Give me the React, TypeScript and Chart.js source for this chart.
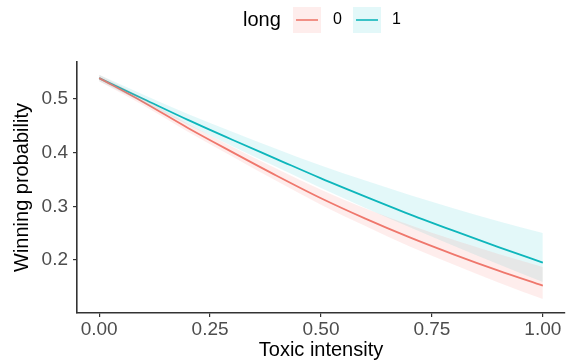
import React, { useEffect, useRef } from "react";
import { Chart, registerables } from "chart.js";

Chart.register(...registerables);

// Toxic intensity grid
const xValues = [0, 0.1, 0.2, 0.3, 0.4, 0.5, 0.6, 0.7, 0.8, 0.9, 1.0];

// long = 0 (red)
const long0Fit = [0.539, 0.494, 0.446, 0.401, 0.357, 0.315, 0.277, 0.242, 0.21, 0.18, 0.152];
const long0Upper = [0.545, 0.501, 0.454, 0.411, 0.37, 0.331, 0.296, 0.265, 0.237, 0.211, 0.187];
const long0Lower = [0.533, 0.488, 0.439, 0.393, 0.347, 0.303, 0.263, 0.225, 0.191, 0.158, 0.127];

// long = 1 (teal)
const long1Fit = [0.539, 0.5, 0.461, 0.424, 0.388, 0.352, 0.318, 0.285, 0.254, 0.224, 0.195];
const long1Upper = [0.545, 0.508, 0.472, 0.439, 0.407, 0.376, 0.348, 0.321, 0.296, 0.272, 0.25];
const long1Lower = [0.533, 0.493, 0.452, 0.412, 0.373, 0.334, 0.297, 0.261, 0.226, 0.192, 0.159];

const xTicks = [0, 0.25, 0.5, 0.75, 1.0];
const yTicks = [0.2, 0.3, 0.4, 0.5];

const legendTitle = "long";
const legendLabels = ["0", "1"];

const RED = "#EE786D";
const TEAL = "#10B5BA";
const RED_FILL = "rgba(248,118,109,0.13)";
const TEAL_FILL = "rgba(0,191,196,0.11)";
const FONT = "'Liberation Sans', Arial, Helvetica, sans-serif";

const pts = (ys: number[]) => xValues.map((x, i) => ({ x, y: ys[i] }));

const legendPlugin = {
  id: "ggLegend",
  afterDraw(chart: any) {
    const ctx = chart.ctx;
    ctx.save();
    ctx.fillStyle = "#000";
    ctx.textBaseline = "middle";
    ctx.textAlign = "left";
    ctx.font = `20px ${FONT}`;
    ctx.fillText(legendTitle, 243, 20);
    const keys = [
      { x: 293, fill: RED_FILL, line: RED, label: legendLabels[0], lx: 333 },
      { x: 353, fill: TEAL_FILL, line: TEAL, label: legendLabels[1], lx: 392 },
    ];
    keys.forEach((k) => {
      ctx.fillStyle = k.fill;
      ctx.fillRect(k.x, 7, 28, 26);
      ctx.strokeStyle = k.line;
      ctx.lineWidth = 1.6;
      ctx.beginPath();
      ctx.moveTo(k.x + 3, 20);
      ctx.lineTo(k.x + 25, 20);
      ctx.stroke();
      ctx.fillStyle = "#000";
      ctx.font = `16px ${FONT}`;
      ctx.fillText(k.label, k.lx, 20);
    });
    ctx.restore();
  },
};

export default function App() {
  const ref = useRef<HTMLCanvasElement | null>(null);

  useEffect(() => {
    if (!ref.current) return;
    const band = (data: number[], fill: any, bg: string) => ({
      data: pts(data),
      borderWidth: 0,
      pointRadius: 0,
      fill,
      backgroundColor: bg,
      cubicInterpolationMode: "monotone" as const,
    });
    const chart = new Chart(ref.current, {
      type: "line",
      data: {
        datasets: [
          band(long0Upper, "+1", RED_FILL),
          band(long0Lower, false, RED_FILL),
          band(long1Upper, "+1", TEAL_FILL),
          band(long1Lower, false, TEAL_FILL),
          {
            data: pts(long0Fit),
            borderColor: RED,
            borderWidth: 1.8,
            pointRadius: 0,
            fill: false,
            cubicInterpolationMode: "monotone",
          },
          {
            data: pts(long1Fit),
            borderColor: TEAL,
            borderWidth: 1.8,
            pointRadius: 0,
            fill: false,
            cubicInterpolationMode: "monotone",
          },
        ],
      },
      options: {
        animation: false,
        responsive: false,
        maintainAspectRatio: false,
        devicePixelRatio: 1,
        layout: { padding: { left: 0, right: 6, top: 62, bottom: 0 } },
        plugins: {
          legend: { display: false },
          tooltip: { enabled: false },
        },
        scales: {
          x: {
            type: "linear",
            min: -0.05,
            max: 1.05,
            afterBuildTicks: (s: any) => {
              s.ticks = xTicks.map((v) => ({ value: v }));
            },
            afterFit: (s: any) => {
              s.height = 51;
            },
            ticks: {
              callback: (v: any) => Number(v).toFixed(2),
              color: "#4D4D4D",
              font: { family: FONT, size: 19 },
              padding: 1,
              maxRotation: 0,
              autoSkip: false,
            },
            grid: {
              display: true,
              drawOnChartArea: false,
              drawTicks: true,
              tickLength: 4,
              color: "#333",
              lineWidth: 1.2,
            },
            border: { display: true, color: "#333", width: 1.6 },
            title: {
              display: true,
              text: "Toxic intensity",
              color: "#000",
              font: { family: FONT, size: 20 },
              padding: { top: 0, bottom: 2 },
            },
          },
          y: {
            type: "linear",
            min: 0.101,
            max: 0.569,
            afterBuildTicks: (s: any) => {
              s.ticks = yTicks.map((v) => ({ value: v }));
            },
            afterFit: (s: any) => {
              s.width = 77;
            },
            ticks: {
              callback: (v: any) => Number(v).toFixed(1),
              color: "#4D4D4D",
              font: { family: FONT, size: 19 },
              padding: 5,
              autoSkip: false,
            },
            grid: {
              display: true,
              drawOnChartArea: false,
              drawTicks: true,
              tickLength: 4,
              color: "#333",
              lineWidth: 1.2,
            },
            border: { display: true, color: "#333", width: 1.6 },
            title: {
              display: true,
              text: "Winning probability",
              color: "#000",
              font: { family: FONT, size: 20 },
              padding: { top: 10, bottom: 0 },
            },
          },
        },
      },
      plugins: [legendPlugin],
    });
    return () => chart.destroy();
  }, []);

  return (
    <div style={{ position: "absolute", left: 0, top: 0, width: 571, height: 364, background: "#fff" }}>
      <canvas ref={ref} width={571} height={364} style={{ display: "block" }} />
    </div>
  );
}
